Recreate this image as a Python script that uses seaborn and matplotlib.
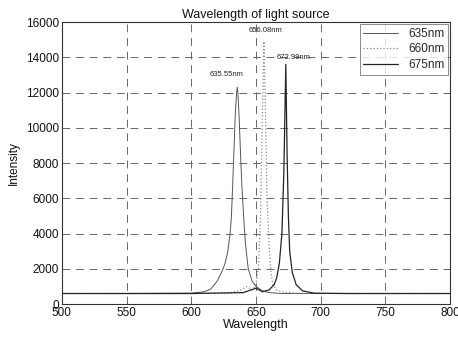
import numpy as np
import pandas as pd
import matplotlib
matplotlib.use("Agg")
import matplotlib.pyplot as plt
import seaborn as sns

# Data
wl_635 = [500, 550, 600, 610, 615, 620, 624, 626, 628, 630, 631, 632, 633, 634, 635, 635.5, 636, 637, 638, 639, 640, 641, 642, 644, 647, 650, 655, 660, 670, 700, 750, 800]
int_635 = [600, 600, 620, 700, 850, 1300, 1900, 2300, 2900, 4000, 5000, 6800, 8800, 10800, 12000, 12300, 12000, 10500, 8600, 6800, 5500, 4300, 3300, 2000, 1300, 1000, 750, 650, 600, 600, 600, 600]

wl_660 = [500, 550, 600, 630, 638, 643, 647, 650, 652, 653.5, 655, 656.1, 657, 658.5, 660, 661.5, 663, 666, 670, 680, 700, 750, 800]
int_660 = [600, 600, 600, 620, 800, 1000, 800, 1100, 2200, 5000, 11000, 14900, 12000, 6000, 3500, 1800, 1100, 800, 700, 620, 600, 600, 600]

wl_675 = [500, 550, 600, 640, 650, 655, 660, 664, 666, 668, 670, 671.5, 673, 674, 675, 676, 678, 681, 686, 695, 720, 750, 800]
int_675 = [600, 600, 600, 650, 900, 700, 800, 1100, 1500, 2300, 4000, 7500, 13600, 8500, 5000, 3000, 1800, 1100, 750, 620, 600, 600, 600]

series_names = ["635nm", "660nm", "675nm"]
peak_labels = ["635.55nm", "656.08nm", "672.99nm"]
peak_label_x = [627, 657, 679]
peak_label_y = [13000, 15500, 14000]

df = pd.concat([
    pd.DataFrame({"Wavelength": wl_635, "Intensity": int_635, "series": series_names[0]}),
    pd.DataFrame({"Wavelength": wl_660, "Intensity": int_660, "series": series_names[1]}),
    pd.DataFrame({"Wavelength": wl_675, "Intensity": int_675, "series": series_names[2]}),
], ignore_index=True)

sns.set_theme(style="white")
plt.rcParams['font.family'] = ['Liberation Sans', 'DejaVu Sans']

fig = plt.figure(figsize=(4.58, 3.39), dpi=100)
ax = fig.add_axes([0.135, 0.103, 0.848, 0.832])

styles = {"635nm": dict(color="#555555", lw=0.7, ls="-"),
          "660nm": dict(color="#888888", lw=0.9, ls=":"),
          "675nm": dict(color="#222222", lw=0.9, ls="-")}
for name in series_names:
    sub = df[df["series"] == name]
    sns.lineplot(data=sub, x="Wavelength", y="Intensity", ax=ax, label=name,
                 estimator=None, sort=False, **styles[name])

for lab, x, y in zip(peak_labels, peak_label_x, peak_label_y):
    ax.text(x, y, lab, fontsize=5.5, ha="center", va="center", color="#222222")

ax.set_xlim(500, 800)
ax.set_ylim(0, 16000)
ax.set_xticks(np.arange(500, 801, 50))
ax.set_yticks(np.arange(0, 16001, 2000))
ax.grid(True, color="#666666", ls=(0, (8, 6)), lw=0.7)
for s in ax.spines.values():
    s.set_color("#333333")
    s.set_linewidth(0.8)
ax.tick_params(labelsize=8.5, colors="#111111", length=2, direction="in", pad=2)
ax.set_xlabel("Wavelength", fontsize=9, labelpad=0, color="#111111")
ax.set_ylabel("Intensity", fontsize=8.5, labelpad=4, color="#111111")
ax.set_title("Wavelength of light source", fontsize=9, pad=3, color="#111111")

leg = ax.legend(loc="upper right", fontsize=8.5, frameon=True, fancybox=False,
                handlelength=3, borderpad=0.3, labelspacing=0.3, borderaxespad=0.2)
leg.get_frame().set_edgecolor("#555555")
leg.get_frame().set_linewidth(0.6)

fig.savefig("out.png", dpi=100)
